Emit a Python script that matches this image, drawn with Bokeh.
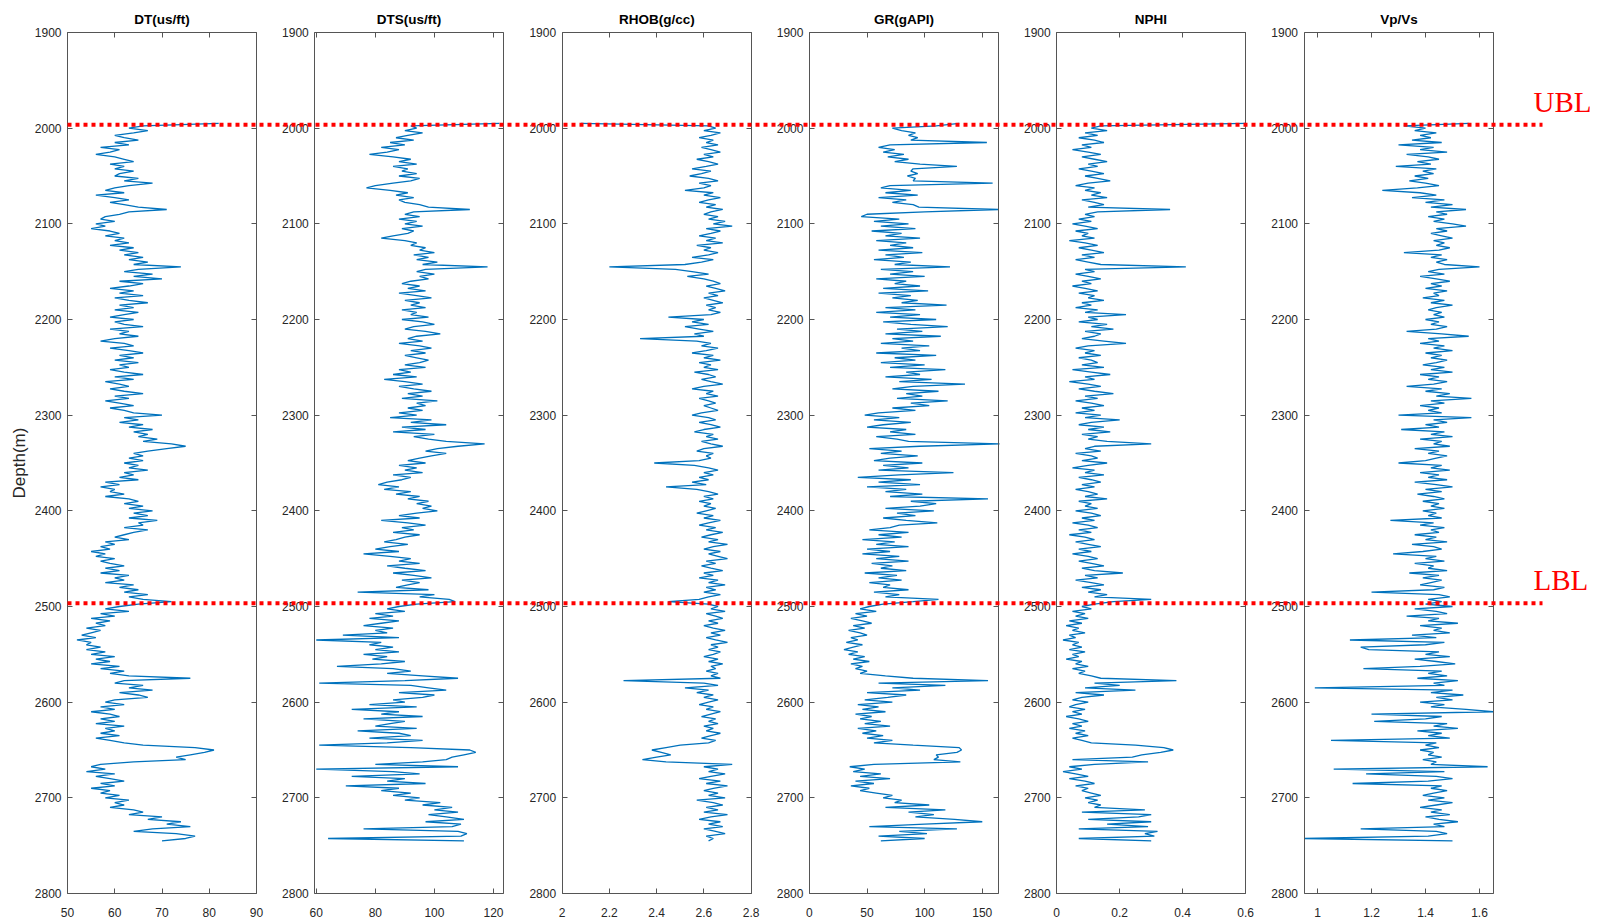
import numpy as np
from bokeh.plotting import figure
from bokeh.models import Range1d, LinearAxis, FixedTicker, PrintfTickFormatter, ColumnDataSource
from bokeh.embed import file_html
from bokeh.resources import INLINE
from bokeh.core.properties import value

# ---------------- data (2.5 m sampling, 1995 ... 2745 m) ----------------
depth = list(np.arange(1995, 2747.5, 2.5))

dt = [
    82, 66, 63, 67, 64, 60, 62, 65, 60, 63, 57, 61, 59, 56, 60, 62, 64, 59, 62, 60,   # 1995
    64, 61, 60, 65, 62, 68, 63, 60, 58, 62, 56, 60, 63, 59, 62, 65, 71, 63, 61, 58,   # 2045
    57, 60, 56, 58, 55, 59, 61, 58, 62, 60, 63, 59, 64, 61, 65, 62, 66, 63, 67, 64,   # 2095
    74, 65, 62, 68, 64, 70, 61, 66, 63, 59, 64, 61, 66, 60, 63, 67, 61, 64, 60, 65,   # 2145
    62, 59, 64, 60, 62, 66, 59, 63, 61, 65, 60, 57, 62, 64, 59, 63, 66, 61, 64, 60,   # 2195
    65, 61, 63, 59, 62, 66, 60, 64, 58, 61, 63, 59, 62, 66, 60, 63, 58, 61, 64, 59,   # 2245
    62, 64, 70, 62, 65, 61, 66, 63, 68, 64, 67, 65, 69, 66, 72, 75, 71, 67, 64, 66,   # 2295
    63, 66, 62, 65, 63, 67, 62, 64, 61, 65, 58, 61, 57, 60, 59, 62, 58, 63, 65, 62,   # 2345
    66, 63, 68, 64, 67, 63, 69, 65, 66, 62, 67, 64, 62, 60, 63, 58, 60, 57, 59, 55,   # 2395
    58, 56, 60, 57, 59, 62, 58, 61, 57, 63, 60, 62, 58, 64, 61, 65, 62, 67, 63, 66,   # 2445
    72, 65, 61, 58, 63, 57, 60, 55, 59, 56, 58, 54, 57, 55, 53, 56, 52, 55, 54, 57,   # 2495
    54, 58, 55, 60, 56, 59, 55, 61, 57, 62, 59, 63, 76, 62, 60, 66, 63, 68, 61, 65,   # 2545
    67, 60, 58, 62, 57, 60, 55, 59, 61, 57, 60, 56, 62, 58, 60, 57, 61, 56, 59, 62,   # 2595
    66, 77, 81, 79, 76, 73, 75, 64, 57, 55, 58, 54, 60, 56, 59, 62, 57, 60, 55, 59,   # 2645
    57, 61, 58, 63, 60, 62, 59, 64, 66, 63, 70, 67, 74, 71, 76, 68, 64, 73, 77, 75,   # 2695
    70,
]

dts = [
    122, 92, 94, 90, 96, 91, 87, 93, 85, 90, 82, 88, 84, 78, 86, 92, 88, 94, 86, 91,
    89, 94, 88, 95, 92, 86, 80, 77, 85, 91, 87, 93, 88, 90, 95, 98, 112, 93, 90, 95,
    88, 94, 90, 96, 89, 93, 91, 86, 82, 90, 94, 92, 97, 95, 100, 93, 98, 94, 101, 96,
    118, 97, 94, 100, 95, 98, 92, 89, 95, 91, 97, 88, 94, 99, 90, 95, 92, 97, 89, 94,
    92, 98, 89, 96, 100, 93, 90, 97, 102, 94, 91, 96, 88, 95, 99, 92, 97, 90, 94, 98,
    95, 90, 97, 88, 92, 86, 94, 83, 90, 96, 88, 93, 99, 91, 96, 89, 101, 94, 97, 91,
    96, 88, 94, 85, 99, 92, 104, 89, 97, 86, 100, 93, 98, 104, 117, 108, 101, 97, 104, 99,
    95, 91, 97, 88, 94, 90, 96, 86, 92, 89, 84, 81, 88, 83, 92, 87, 95, 91, 98, 94,
    99, 96, 101, 94, 88, 95, 82, 91, 97, 89, 93, 86, 95, 90, 87, 83, 91, 85, 80, 88,
    76, 85, 92, 88, 95, 84, 90, 97, 86, 93, 99, 89, 95, 91, 87, 98, 74, 100, 95, 105,
    107, 94, 88, 84, 90, 80, 86, 78, 88, 82, 76, 86, 80, 84, 69, 88, 60, 82, 78, 86,
    80, 88, 76, 84, 79, 90, 82, 67, 86, 92, 84, 96, 108, 90, 61, 92, 98, 104, 88, 100,
    96, 86, 90, 78, 94, 72, 88, 82, 96, 76, 90, 85, 80, 94, 74, 88, 92, 78, 96, 84,
    61, 92, 112, 114, 110, 106, 104, 96, 80, 108, 60, 86, 95, 72, 90, 84, 97, 70, 88, 82,
    92, 86, 95, 90, 102, 96, 106, 100, 108, 98, 104, 110, 97, 109, 106, 76, 108, 111, 109, 64,
    110,
]

rhob = [
    2.08, 2.62, 2.65, 2.60, 2.67, 2.63, 2.58, 2.64, 2.61, 2.66, 2.59, 2.63, 2.67, 2.60, 2.64, 2.57, 2.62, 2.66, 2.61, 2.55,
    2.63, 2.59, 2.54, 2.62, 2.66, 2.58, 2.63, 2.60, 2.52, 2.64, 2.60, 2.67, 2.62, 2.58, 2.65, 2.61, 2.68, 2.63, 2.60, 2.66,
    2.62, 2.69, 2.64, 2.72, 2.61, 2.67, 2.63, 2.58, 2.65, 2.61, 2.68, 2.57, 2.63, 2.60, 2.66, 2.62, 2.55, 2.64, 2.59, 2.52,
    2.20, 2.48, 2.55, 2.62, 2.53, 2.60, 2.64, 2.67, 2.61, 2.65, 2.69, 2.62, 2.66, 2.60, 2.64, 2.68, 2.61, 2.65, 2.62, 2.67,
    2.63, 2.45, 2.60, 2.55, 2.62, 2.52, 2.58, 2.64, 2.56, 2.60, 2.33, 2.57, 2.63, 2.59, 2.66, 2.61, 2.55, 2.64, 2.60, 2.67,
    2.58, 2.63, 2.60, 2.66, 2.56, 2.62, 2.65, 2.59, 2.63, 2.68, 2.60, 2.55, 2.64, 2.61, 2.66, 2.58, 2.62, 2.65, 2.60, 2.63,
    2.66, 2.59, 2.55, 2.62, 2.65, 2.58, 2.63, 2.67, 2.60, 2.56, 2.64, 2.61, 2.66, 2.59, 2.63, 2.68, 2.60, 2.57, 2.64, 2.61,
    2.63, 2.58, 2.39, 2.56, 2.62, 2.66, 2.60, 2.64, 2.58, 2.62, 2.55, 2.61, 2.44, 2.57, 2.62, 2.66, 2.60, 2.64, 2.58, 2.63,
    2.60, 2.65, 2.61, 2.57, 2.64, 2.60, 2.67, 2.62, 2.58, 2.65, 2.61, 2.68, 2.63, 2.59, 2.66, 2.62, 2.70, 2.64, 2.60, 2.67,
    2.62, 2.66, 2.70, 2.61, 2.65, 2.59, 2.63, 2.68, 2.60, 2.64, 2.58, 2.66, 2.62, 2.69, 2.61, 2.65, 2.60, 2.67, 2.62, 2.58,
    2.45, 2.62, 2.66, 2.63, 2.69, 2.61, 2.65, 2.68, 2.62, 2.66, 2.60, 2.64, 2.69, 2.63, 2.67, 2.61, 2.65, 2.70, 2.63, 2.66,
    2.62, 2.67, 2.64, 2.60, 2.66, 2.62, 2.68, 2.63, 2.65, 2.61, 2.66, 2.63, 2.67, 2.26, 2.60, 2.66, 2.52, 2.62, 2.57, 2.64,
    2.60, 2.66, 2.62, 2.58, 2.64, 2.61, 2.67, 2.63, 2.59, 2.65, 2.62, 2.66, 2.60, 2.64, 2.61, 2.67, 2.63, 2.59, 2.65, 2.62,
    2.50, 2.44, 2.38, 2.42, 2.46, 2.40, 2.34, 2.44, 2.72, 2.60, 2.66, 2.62, 2.69, 2.63, 2.58, 2.67, 2.61, 2.70, 2.64, 2.60,
    2.66, 2.62, 2.69, 2.57, 2.64, 2.68, 2.61, 2.66, 2.60, 2.70, 2.63, 2.58, 2.67, 2.62, 2.68, 2.60, 2.65, 2.69, 2.61, 2.64,
    2.62,
]

gr = [
    130, 110, 72, 80, 92, 86, 94, 88, 154, 70, 60, 74, 64, 82, 68, 86, 74, 96, 128, 90,
    88, 94, 85, 92, 90, 159, 70, 62, 88, 66, 94, 60, 84, 72, 90, 95, 164, 100, 50, 45,
    78, 56, 86, 62, 92, 54, 80, 66, 96, 58, 84, 70, 90, 60, 98, 66, 82, 56, 88, 74,
    122, 62, 90, 70, 100, 58, 84, 74, 96, 64, 103, 60, 88, 72, 94, 80, 119, 66, 92, 58,
    96, 70, 110, 64, 88, 120, 76, 98, 66, 114, 72, 90, 62, 104, 80, 96, 58, 110, 74, 92,
    62, 100, 70, 118, 84, 96, 66, 106, 78, 135, 90, 72, 112, 84, 98, 76, 120, 88, 104, 72,
    92, 60, 48, 78, 56, 88, 64, 50, 84, 70, 92, 58, 76, 86, 165, 96, 52, 80, 62, 94,
    70, 56, 98, 64, 86, 60, 125, 78, 42, 88, 60, 96, 50, 84, 66, 98, 70, 155, 88, 110,
    96, 66, 108, 76, 92, 64, 84, 111, 78, 70, 52, 86, 60, 80, 46, 74, 58, 86, 50, 70,
    46, 78, 58, 86, 54, 72, 62, 84, 48, 76, 60, 80, 52, 70, 64, 86, 56, 78, 66, 112,
    90, 64, 52, 44, 58, 40, 50, 36, 46, 54, 38, 48, 34, 44, 50, 36, 42, 32, 46, 38,
    30, 42, 34, 48, 38, 52, 36, 46, 40, 50, 44, 66, 90, 155, 60, 118, 72, 96, 50, 84,
    68, 48, 72, 42, 60, 46, 66, 40, 54, 44, 62, 48, 70, 42, 58, 46, 64, 50, 72, 56,
    90, 130, 132, 128, 110, 112, 108, 131, 56, 35, 48, 38, 62, 44, 70, 40, 56, 36, 52, 44,
    58, 72, 64, 80, 74, 104, 66, 118, 86, 108, 92, 126, 150, 100, 52, 128, 78, 102, 60, 100,
    62,
]

nphi = [
    0.60, 0.14, 0.11, 0.16, 0.09, 0.13, 0.07, 0.12, 0.15, 0.08, 0.11, 0.05, 0.10, 0.14, 0.08, 0.12, 0.16, 0.10, 0.13, 0.07,
    0.11, 0.15, 0.09, 0.13, 0.17, 0.10, 0.06, 0.12, 0.09, 0.14, 0.11, 0.16, 0.08, 0.12, 0.15, 0.10, 0.36, 0.13, 0.09, 0.12,
    0.07, 0.11, 0.05, 0.09, 0.13, 0.06, 0.10, 0.08, 0.12, 0.04, 0.09, 0.13, 0.07, 0.11, 0.15, 0.08, 0.12, 0.06, 0.10, 0.14,
    0.41, 0.09, 0.12, 0.06, 0.10, 0.14, 0.08, 0.11, 0.05, 0.09, 0.13, 0.07, 0.12, 0.10, 0.15, 0.08, 0.11, 0.06, 0.13, 0.09,
    0.22, 0.10, 0.13, 0.07, 0.16, 0.11, 0.18, 0.09, 0.14, 0.12, 0.08, 0.15, 0.22, 0.10, 0.06, 0.12, 0.09, 0.14, 0.07, 0.11,
    0.13, 0.08, 0.15, 0.05, 0.11, 0.17, 0.09, 0.12, 0.04, 0.10, 0.14, 0.07, 0.12, 0.18, 0.09, 0.13, 0.06, 0.11, 0.15, 0.08,
    0.12, 0.06, 0.14, 0.09, 0.20, 0.11, 0.07, 0.15, 0.10, 0.17, 0.08, 0.13, 0.10, 0.16, 0.30, 0.12, 0.09, 0.14, 0.06, 0.11,
    0.13, 0.08, 0.16, 0.10, 0.05, 0.12, 0.09, 0.15, 0.07, 0.11, 0.14, 0.08, 0.12, 0.06, 0.10, 0.13, 0.09, 0.16, 0.07, 0.11,
    0.09, 0.13, 0.06, 0.11, 0.14, 0.08, 0.12, 0.05, 0.10, 0.13, 0.07, 0.11, 0.04, 0.09, 0.12, 0.06, 0.10, 0.14, 0.07, 0.11,
    0.05, 0.10, 0.13, 0.07, 0.11, 0.15, 0.08, 0.12, 0.21, 0.09, 0.13, 0.06, 0.11, 0.15, 0.08, 0.14, 0.10, 0.16, 0.12, 0.30,
    0.18, 0.12, 0.08, 0.11, 0.05, 0.09, 0.06, 0.10, 0.04, 0.08, 0.03, 0.07, 0.05, 0.09, 0.04, 0.06, 0.02, 0.07, 0.05, 0.08,
    0.04, 0.09, 0.05, 0.07, 0.03, 0.08, 0.06, 0.10, 0.05, 0.09, 0.07, 0.11, 0.14, 0.38, 0.12, 0.20, 0.09, 0.25, 0.06, 0.15,
    0.08, 0.05, 0.10, 0.06, 0.04, 0.09, 0.05, 0.08, 0.03, 0.07, 0.10, 0.05, 0.08, 0.04, 0.09, 0.06, 0.10, 0.05, 0.08, 0.11,
    0.25, 0.34, 0.37, 0.33, 0.27, 0.24, 0.05, 0.29, 0.12, 0.04, 0.08, 0.02, 0.06, 0.10, 0.04, 0.09, 0.12, 0.06, 0.10, 0.08,
    0.11, 0.14, 0.09, 0.13, 0.10, 0.14, 0.12, 0.28, 0.08, 0.30, 0.26, 0.10, 0.30, 0.16, 0.29, 0.07, 0.32, 0.28, 0.31, 0.07,
    0.30,
]

vpvs = [
    1.56, 1.32, 1.40, 1.36, 1.44, 1.38, 1.42, 1.35, 1.46, 1.30, 1.43, 1.38, 1.48, 1.33, 1.41, 1.45, 1.37, 1.42, 1.29, 1.44,
    1.39, 1.43, 1.36, 1.41, 1.34, 1.40, 1.45, 1.37, 1.24, 1.38, 1.44, 1.35, 1.47, 1.40, 1.50, 1.42, 1.55, 1.44, 1.48, 1.41,
    1.47, 1.43, 1.50, 1.55, 1.44, 1.48, 1.42, 1.46, 1.50, 1.43, 1.47, 1.44, 1.49, 1.45, 1.32, 1.46, 1.42, 1.48, 1.44, 1.47,
    1.60, 1.45, 1.41, 1.47, 1.38, 1.44, 1.49, 1.42, 1.46, 1.40, 1.48, 1.43, 1.45, 1.39, 1.47, 1.42, 1.50, 1.44, 1.41, 1.46,
    1.43, 1.47, 1.40, 1.45, 1.42, 1.48, 1.44, 1.33, 1.46, 1.56, 1.41, 1.45, 1.38, 1.47, 1.43, 1.50, 1.40, 1.46, 1.42, 1.48,
    1.44, 1.39, 1.47, 1.42, 1.50, 1.38, 1.45, 1.41, 1.48, 1.43, 1.33, 1.46, 1.40, 1.49, 1.44, 1.57, 1.42, 1.47, 1.38, 1.45,
    1.41, 1.46, 1.30, 1.57, 1.43, 1.48, 1.40, 1.45, 1.31, 1.47, 1.42, 1.50, 1.38, 1.46, 1.43, 1.49, 1.36, 1.45, 1.41, 1.48,
    1.44, 1.40, 1.30, 1.46, 1.42, 1.49, 1.38, 1.45, 1.41, 1.48, 1.36, 1.44, 1.50, 1.40, 1.46, 1.37, 1.43, 1.47, 1.39, 1.45,
    1.42, 1.47, 1.39, 1.44, 1.41, 1.46, 1.27, 1.43, 1.38, 1.47, 1.42, 1.45, 1.36, 1.44, 1.40, 1.48, 1.35, 1.43, 1.46, 1.39,
    1.28, 1.44, 1.40, 1.47, 1.36, 1.43, 1.41, 1.48, 1.34, 1.45, 1.39, 1.46, 1.42, 1.38, 1.47, 1.43, 1.20, 1.45, 1.49, 1.41,
    1.46, 1.40, 1.50, 1.36, 1.44, 1.48, 1.33, 1.45, 1.41, 1.52, 1.38, 1.46, 1.43, 1.49, 1.35, 1.44, 1.12, 1.47, 1.40, 1.16,
    1.19, 1.45, 1.40, 1.49, 1.36, 1.44, 1.51, 1.38, 1.17, 1.46, 1.41, 1.48, 1.37, 1.52, 1.43, 1.47, 0.99, 1.50, 1.42, 1.54,
    1.44, 1.50, 1.38, 1.47, 1.42, 1.55, 1.65, 1.20, 1.46, 1.40, 1.21, 1.48, 1.43, 1.52, 1.37, 1.46, 1.41, 1.49, 1.05, 1.44,
    1.40, 1.45, 1.38, 1.43, 1.41, 1.46, 1.39, 1.44, 1.42, 1.63, 1.06, 1.47, 1.18, 1.44, 1.50, 1.41, 1.13, 1.46, 1.42, 1.48,
    1.43, 1.39, 1.47, 1.41, 1.50, 1.44, 1.38, 1.46, 1.42, 1.49, 1.40, 1.45, 1.52, 1.43, 1.47, 1.16, 1.44, 1.48, 1.41, 0.95,
    1.50,
]

titles = ["DT(us/ft)", "DTS(us/ft)", "RHOB(g/cc)", "GR(gAPI)", "NPHI", "Vp/Vs"]
x_lims = [(50, 90), (59.5, 123.5), (2.0, 2.8), (0, 164), (0, 0.6), (0.95, 1.65)]
x_ticks = [[50, 60, 70, 80, 90], [60, 80, 100, 120], [2, 2.2, 2.4, 2.6, 2.8],
           [0, 50, 100, 150], [0, 0.2, 0.4, 0.6], [1, 1.2, 1.4, 1.6]]
depth_ticks = [1900, 2000, 2100, 2200, 2300, 2400, 2500, 2600, 2700, 2800]
depth_lims = (1900, 2800)

boundary_depths = [1996.5, 2496.5]
boundary_labels = ["UBL", "LBL"]

logs = [dt, dts, rhob, gr, nphi, vpvs]
for s in logs:
    assert len(s) == len(depth), (len(s), len(depth))

# ---------------- layout (pixels; the frame is the whole canvas) ----------------
W, H = 1600, 920
PT, PB = 32, 893                 # panel top / bottom in px
PL0, PSTEP, PW = 67, 247.3, 189  # first panel left, panel step, panel width
line_x0, line_x1 = 67, 1542
label_x = 1533

ppm = (PB - PT) / (depth_lims[1] - depth_lims[0])
y_top_val = depth_lims[0] - PT / ppm
y_bot_val = depth_lims[1] + (H - PB) / ppm

AX = "#555555"
LAB = "#262626"
BLUE = "#0072BD"
FONT = "Liberation Sans"

p = figure(width=W, height=H, output_backend="svg", toolbar_location=None,
           x_range=Range1d(0, W), y_range=Range1d(y_bot_val, y_top_val),
           x_axis_type=None, y_axis_type=None,
           min_border_left=0, min_border_right=0, min_border_top=0, min_border_bottom=0)
p.outline_line_color = None
p.background_fill_color = "white"
p.border_fill_color = "white"
p.title.visible = False

extra = {}
for i, (lo, hi) in enumerate(x_lims):
    scale = (hi - lo) / PW
    start = lo - (PL0 + i * PSTEP) * scale
    extra[f"p{i}"] = Range1d(start, start + W * scale)
p.extra_x_ranges = extra


def style(ax):
    ax.axis_line_color = AX
    ax.axis_line_width = 1
    ax.major_tick_line_color = AX
    ax.major_tick_in = 5
    ax.major_tick_out = 0
    ax.minor_tick_line_color = None
    ax.major_label_text_font = FONT
    ax.major_label_text_font_size = "12px"
    ax.major_label_text_color = LAB
    ax.major_label_standoff = 6
    return ax


for i, (lo, hi) in enumerate(x_lims):
    name = f"p{i}"
    src = ColumnDataSource(dict(x=logs[i], y=depth))
    p.line("x", "y", source=src, x_range_name=name, line_color=BLUE, line_width=1.3)

    left = style(LinearAxis(x_range_name=name, fixed_location=lo, bounds=depth_lims,
                            ticker=FixedTicker(ticks=depth_ticks)))
    if i == 0:
        left.axis_label = "Depth(m)"
        left.axis_label_text_font = FONT
        left.axis_label_text_font_style = "normal"
        left.axis_label_text_font_size = "17px"
        left.axis_label_text_color = LAB
        left.axis_label_standoff = 3
    p.add_layout(left, "left")

    right = style(LinearAxis(x_range_name=name, fixed_location=hi, bounds=depth_lims,
                             ticker=FixedTicker(ticks=depth_ticks)))
    right.major_label_text_color = None
    p.add_layout(right, "right")

    bottom = style(LinearAxis(x_range_name=name, fixed_location=depth_lims[1], bounds=(lo, hi),
                              ticker=FixedTicker(ticks=x_ticks[i]),
                              formatter=PrintfTickFormatter(format="%g")))
    bottom.major_label_standoff = 14
    p.add_layout(bottom, "below")

    top = style(LinearAxis(x_range_name=name, fixed_location=depth_lims[0], bounds=(lo, hi),
                           ticker=FixedTicker(ticks=x_ticks[i])))
    top.major_label_text_color = None
    p.add_layout(top, "above")

    ttl = LinearAxis(x_range_name=name, fixed_location=depth_lims[0], bounds=(lo, hi),
                     ticker=FixedTicker(ticks=[]))
    ttl.axis_line_color = None
    ttl.major_tick_line_color = None
    ttl.minor_tick_line_color = None
    ttl.axis_label = titles[i]
    ttl.axis_label_text_font = FONT
    ttl.axis_label_text_font_style = "bold"
    ttl.axis_label_text_font_size = "13.5px"
    ttl.axis_label_text_color = "#000000"
    ttl.axis_label_standoff = 6
    p.add_layout(ttl, "above")

bsrc = ColumnDataSource(dict(y=boundary_depths, x0=[line_x0] * len(boundary_depths),
                             x1=[line_x1] * len(boundary_depths),
                             xt=[label_x] * len(boundary_depths), t=boundary_labels))
p.segment(x0="x0", x1="x1", y0="y", y1="y", source=bsrc, line_color="#FF0000",
          line_width=4, line_dash="4 4", line_cap="butt", level="overlay")
p.text(x="xt", y="y", text="t", source=bsrc, text_color="#FF0000",
       text_font=value("Liberation Serif"), text_font_size="29px",
       text_baseline="middle", text_align="left", y_offset=-23, level="overlay")

open("out.html", "w").write(file_html(p, INLINE))
